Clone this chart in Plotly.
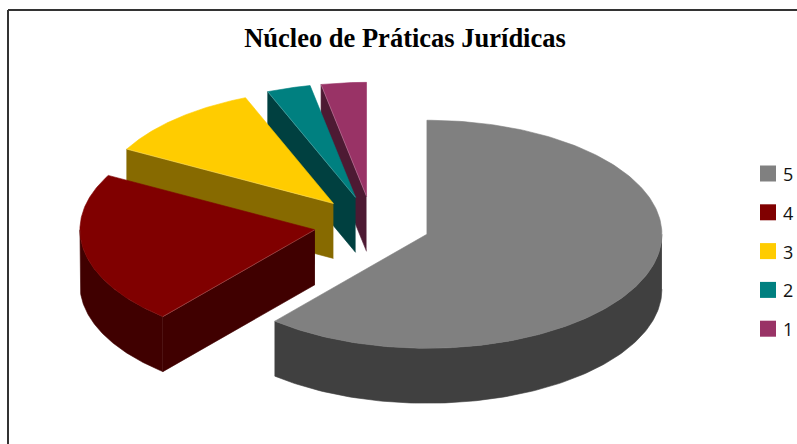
import numpy as np
import plotly.graph_objects as go

categories = ["5", "4", "3", "2", "1"]
values = [61.2, 21.7, 11.0, 3.0, 3.1]
top_colors = ["#808080", "#800000", "#FFCC00", "#008080", "#993366"]
wall_colors = ["#404040", "#400000", "#876A00", "#004040", "#4D1A33"]
title_text = "Núcleo de Práticas Jurídicas"

W, H = 797, 444
CX, CY = 372.2, 224.5
RX, RY = 235.0, 114.0
DEPTH = 55.0
EXPLODE = 0.248
LEGEND_X, LEGEND_Y, LEGEND_STEP = 768.0, 173.5, 38.8


def pt(c, th, r=1.0):
    return c[0] + r * RX * np.sin(th), c[1] - r * RY * np.cos(th)


def poly(xs, ys, color):
    return go.Scatter(
        x=list(xs), y=list(ys), mode="lines", fill="toself", fillcolor=color,
        line=dict(color=color, width=0.6), hoverinfo="skip", showlegend=False,
    )


fractions = np.array(values) / sum(values)
ends = np.cumsum(fractions) * 2 * np.pi
starts = ends - fractions * 2 * np.pi

fig = go.Figure()
# back to front: last category first
for i in reversed(range(len(values))):
    a, b = starts[i], ends[i]
    mid = (a + b) / 2
    c = pt((CX, CY), mid, EXPLODE)
    # radial wall on the start edge, visible for edges pointing left
    visible_edge = np.pi < a < 2 * np.pi
    if visible_edge:
        ex, ey = pt(c, a)
        fig.add_trace(poly([c[0], ex, ex, c[0]],
                           [c[1], ey, ey + DEPTH, c[1] + DEPTH], wall_colors[i]))
    # outer rim wall, for the part of the arc facing the viewer
    lo, hi = max(a, np.pi / 2), min(b, 3 * np.pi / 2)
    if hi > lo:
        t = np.linspace(lo, hi, 120)
        xs, ys = pt(c, t)
        fig.add_trace(poly(np.r_[xs, xs[::-1]], np.r_[ys, ys[::-1] + DEPTH], wall_colors[i]))
    # top face
    t = np.linspace(a, b, 200)
    xs, ys = pt(c, t)
    fig.add_trace(poly(np.r_[c[0], xs, c[0]], np.r_[c[1], ys, c[1]], top_colors[i]))
    # faint highlight along the edge between top and radial wall
    if visible_edge:
        fig.add_trace(go.Scatter(x=[c[0], ex], y=[c[1], ey], mode="lines",
                                 line=dict(color="rgba(255,255,255,0.3)", width=0.7),
                                 hoverinfo="skip", showlegend=False))

# legend swatches and labels
for k, (name, color) in enumerate(zip(categories, top_colors)):
    y = LEGEND_Y + k * LEGEND_STEP
    fig.add_trace(go.Scatter(
        x=[LEGEND_X], y=[y], mode="markers", name=name, showlegend=False,
        marker=dict(symbol="square", size=16, color=color, line=dict(width=0)), hoverinfo="name",
    ))
    fig.add_annotation(x=780.5, y=y + 0.5, text=name, showarrow=False, xanchor="left", yanchor="middle",
                       font=dict(family="Open Sans", size=18, color="#111111"))

fig.add_shape(type="line", x0=8, x1=W, y0=10, y1=10, line=dict(color="#333333", width=2))
fig.add_shape(type="line", x0=8, x1=8, y0=10, y1=H, line=dict(color="#333333", width=2))

fig.update_layout(
    width=W, height=H, margin=dict(l=0, r=0, t=0, b=0),
    paper_bgcolor="white", plot_bgcolor="white",
    xaxis=dict(range=[0, W], visible=False, fixedrange=True),
    yaxis=dict(range=[H, 0], visible=False, fixedrange=True),
    title=dict(text=f"<b>{title_text}</b>", x=405 / W, xanchor="center", y=1 - 38 / H, yanchor="middle",
               font=dict(family="Liberation Serif", size=26.5, color="black")),
)
fig.write_html("out.html", config={"displayModeBar": False},
               post_script="document.body.style.margin='0';document.documentElement.style.overflow='hidden';")
